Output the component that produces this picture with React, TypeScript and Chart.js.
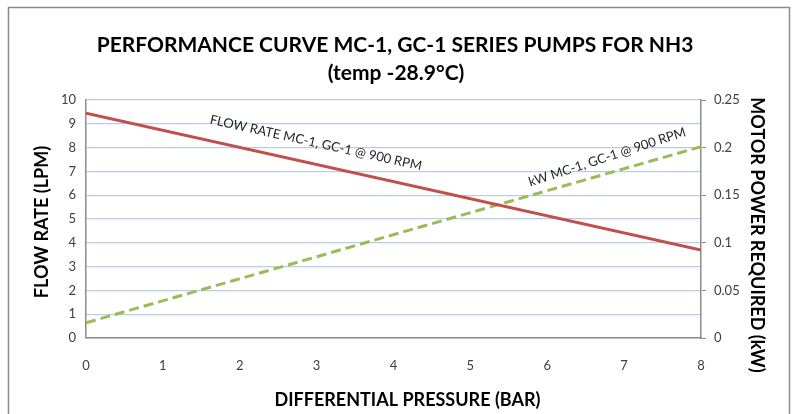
import React, { useEffect, useRef } from "react";
import { Chart, registerables } from "chart.js";

Chart.register(...registerables);

const pressureBar = [0, 8];
const flowLpm = [9.45, 3.7];
const powerKw = [0.016, 0.201];

const titleLines = ["PERFORMANCE CURVE MC-1, GC-1 SERIES PUMPS FOR NH3", "(temp -28.9°C)"];
const xTitle = "DIFFERENTIAL PRESSURE (BAR)";
const yLeftTitle = "FLOW RATE (LPM)";
const yRightTitle = "MOTOR POWER REQUIRED (kW)";

const labelTexts = ["FLOW RATE MC-1, GC-1 @ 900 RPM", "kW MC-1, GC-1 @ 900 RPM"];
const labelX = [2.99, 6.78];
const labelY = [8.2, 7.6];
const labelAngle = [12.5, -18];

const FONT = "Lato, 'Open Sans', sans-serif";

const decorPlugin = {
  id: "decor",
  beforeDraw(chart: any) {
    const ctx = chart.ctx;
    ctx.save();
    ctx.strokeStyle = "#8c8c8c";
    ctx.lineWidth = 1.5;
    ctx.strokeRect(8.5, 7.5, 781, 440);
    ctx.restore();
  },
  afterDraw(chart: any) {
    const ctx = chart.ctx;
    const area = chart.chartArea;
    ctx.save();
    ctx.fillStyle = "#000";
    ctx.textAlign = "center";
    ctx.textBaseline = "middle";
    ctx.font = `bold 21px ${FONT}`;
    ctx.fillText(titleLines[0], 395, 45);
    ctx.fillText(titleLines[1], 396, 73);

    ctx.font = `bold 18px ${FONT}`;
    ctx.fillText(xTitle, (area.left + area.right) / 2 + 14, 400);

    ctx.save();
    ctx.translate(42, 222);
    ctx.rotate(-Math.PI / 2);
    ctx.fillText(yLeftTitle, 0, 0);
    ctx.restore();

    ctx.save();
    ctx.translate(757, 235);
    ctx.rotate(Math.PI / 2);
    ctx.fillText(yRightTitle, 0, 0);
    ctx.restore();

    const xs = chart.scales.x;
    const ys = chart.scales.y;
    ctx.font = `13px ${FONT}`;
    ctx.fillStyle = "#262626";
    labelTexts.forEach((t, i) => {
      const px = xs.getPixelForValue(labelX[i]);
      const py = ys.getPixelForValue(labelY[i]);
      ctx.save();
      ctx.translate(px, py);
      ctx.rotate((labelAngle[i] * Math.PI) / 180);
      ctx.fillText(t, 0, 0);
      ctx.restore();
    });
    ctx.restore();
  },
};

export default function App() {
  const ref = useRef<HTMLCanvasElement>(null);
  useEffect(() => {
    if (!ref.current) return;
    const tickFont = { family: FONT, size: 13 };
    const chart = new Chart(ref.current, {
      type: "line",
      data: {
        datasets: [
          {
            label: "Flow",
            data: pressureBar.map((x, i) => ({ x, y: flowLpm[i] })),
            borderColor: "#c0504d",
            borderWidth: 3,
            pointRadius: 0,
            yAxisID: "y",
          },
          {
            label: "kW",
            data: pressureBar.map((x, i) => ({ x, y: powerKw[i] })),
            borderColor: "#9bbb59",
            borderWidth: 3,
            borderDash: [10, 5],
            pointRadius: 0,
            yAxisID: "y1",
          },
        ],
      },
      options: {
        animation: false,
        responsive: false,
        layout: { padding: { top: 100, left: 0, right: 0, bottom: 0 } },
        plugins: { legend: { display: false }, tooltip: { enabled: false } },
        scales: {
          x: {
            type: "linear",
            min: 0,
            max: 8,
            ticks: { stepSize: 1, color: "#404040", font: tickFont, padding: 12 },
            grid: { display: false },
            border: { display: true, color: "#8c8c8c", width: 1.5 },
            afterFit: (s: any) => {
              s.height = 76;
            },
          },
          y: {
            position: "left",
            min: 0,
            max: 10,
            ticks: { stepSize: 1, color: "#404040", font: tickFont, padding: 10 },
            grid: { color: "#b9cde8", lineWidth: 1.2, drawTicks: false },
            border: { display: true, color: "#8c8c8c", width: 1.5 },
            afterFit: (s: any) => {
              s.width = 86;
            },
          },
          y1: {
            position: "right",
            min: 0,
            max: 0.25,
            ticks: {
              stepSize: 0.05,
              color: "#404040",
              font: tickFont,
              padding: 8,
              callback: (v: any) => String(Number(Number(v).toFixed(2))),
            },
            grid: { drawOnChartArea: false, drawTicks: true, tickLength: 5, color: "#8c8c8c" },
            border: { display: true, color: "#8c8c8c", width: 1.5 },
            afterFit: (s: any) => {
              s.width = 95;
            },
          },
        },
      },
      plugins: [decorPlugin],
    });
    return () => chart.destroy();
  }, []);
  return (
    <div style={{ position: "fixed", left: 0, top: 0, width: 796, height: 414, background: "#fff" }}>
      <canvas ref={ref} width={796} height={414} style={{ width: 796, height: 414 }} />
    </div>
  );
}
